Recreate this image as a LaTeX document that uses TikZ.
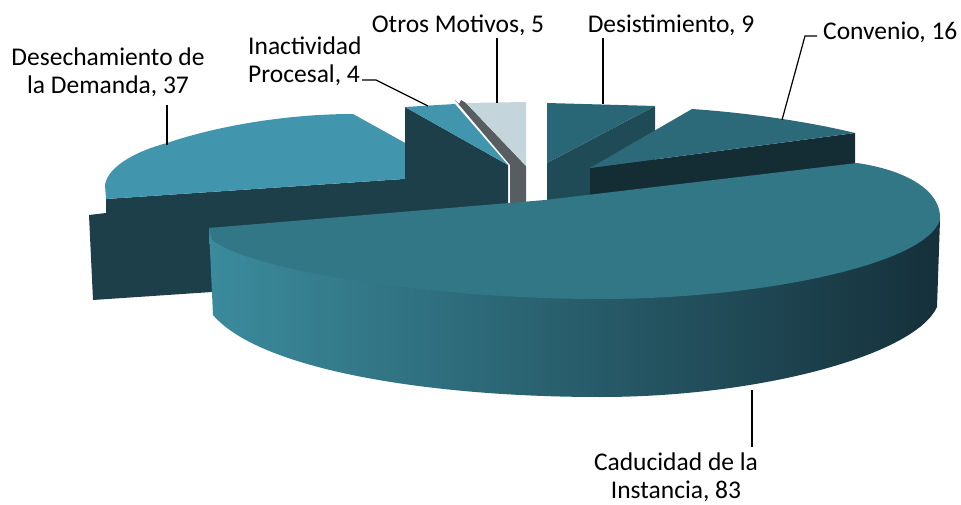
\documentclass[tikz,border=0pt]{standalone}
\usepackage{fontspec}
\setmainfont{Carlito}

\definecolor{cadtop}{HTML}{317786}
\definecolor{cadleft}{HTML}{3B8B9D}
\definecolor{cadmid}{HTML}{265B68}
\definecolor{cadright}{HTML}{15303A}
\definecolor{destop}{HTML}{4196AE}
\definecolor{desside}{HTML}{1D3F4A}
\definecolor{otrtop}{HTML}{C4D5DC}
\definecolor{otrside}{HTML}{575D61}
\definecolor{sistop}{HTML}{296777}
\definecolor{sisside}{HTML}{1F4B57}
\definecolor{contop}{HTML}{2C6A7A}
\definecolor{conside}{HTML}{142D35}

\tikzset{
    lbl/.style={font=\fontsize{25.5}{28}\selectfont, inner sep=0pt},
    leader/.style={line width=1.2pt, black},
}

\begin{document}
\begin{tikzpicture}[x=1pt,y=-1pt]
    \useasboundingbox (0,0) rectangle (961,505);

    % Desechamiento de la Demanda
    \fill[desside] (106,199) -- (463,175) -- (463,280) -- (212,292) -- (93,300) -- (89,215) -- (106,213) -- cycle;
    \fill[destop] (106,199) -- (105,185) .. controls (108,165) and (140,150) .. (167,143) .. controls (220,125) and (290,114) .. (353,114) -- (463,175) -- cycle;

    % Inactividad Procesal
    \fill[desside] (405,107) -- (508,165) -- (508,215) -- (405,215) -- cycle;
    \fill[destop] (405,107) -- (455,104) -- (508,165) -- cycle;

    % Otros Motivos
    \fill[otrside] (455,100) -- (459,104) -- (461,100) -- (466,103) -- (526,166) -- (526,215) -- (510,215) -- (510,165) -- cycle;
    \fill[otrtop] (466,103) -- (526,102) -- (526,166) -- cycle;

    % Desistimiento
    \fill[sisside] (547,163) -- (655,106) -- (655,210) -- (547,210) -- cycle;
    \fill[sistop] (547,103) -- (655,106) -- (547,163) -- cycle;

    % Convenio
    \fill[conside] (590,168) -- (855,133) -- (855,175) -- (590,210) -- cycle;
    \fill[contop] (590,168) -- (692,109) .. controls (750,113) and (810,122) .. (855,133) -- cycle;

    % Caducidad de la Instancia
    \shade[left color=cadleft, middle color=cadmid, right color=cadright] (209,228) -- (213,315) .. controls (260,370) and (430,397) .. (600,397) .. controls (760,397) and (915,355) .. (937,307) -- (940,220) -- cycle;
    \fill[cadtop] (209,228) -- (545,200) -- (857,163) .. controls (905,170) and (942,190) .. (940,220) .. controls (925,265) and (760,299) .. (600,299) .. controls (430,299) and (250,270) .. (212,240) -- cycle;

    % labels
    \node[lbl, align=center] (lblDesech) at (108,72) {Desechamiento de\\la Demanda, 37};
    \node[lbl, align=left, anchor=west] (lblInact) at (248,61) {Inactividad\\Procesal, 4};
    \node[lbl, anchor=base] (lblOtros) at (458,33) {Otros Motivos, 5};
    \node[lbl, anchor=base] (lblDesist) at (671,33) {Desistimiento, 9};
    \node[lbl, anchor=base west] (lblConv) at (823,40) {Convenio, 16};
    \node[lbl, align=center] (lblCad) at (676,477) {Caducidad de la\\Instancia, 83};

    \coordinate (desechA) at (167,105);
    \coordinate (desechB) at (167,145);
    \coordinate (inactA) at (362,80);
    \coordinate (inactB) at (376,80);
    \coordinate (inactC) at (428,106);
    \coordinate (otrosA) at (497,38);
    \coordinate (otrosB) at (497,103);
    \coordinate (desistA) at (603,38);
    \coordinate (desistB) at (603,104);
    \coordinate (convA) at (817,36);
    \coordinate (convB) at (805,36);
    \coordinate (convC) at (782,120);
    \coordinate (cadA) at (752,390);
    \coordinate (cadB) at (752,447);

    \draw[leader] (desechA) -- (desechB);
    \draw[leader] (inactA) -- (inactB) -- (inactC);
    \draw[leader] (otrosA) -- (otrosB);
    \draw[leader] (desistA) -- (desistB);
    \draw[leader] (convA) -- (convB) -- (convC);
    \draw[leader] (cadA) -- (cadB);
\end{tikzpicture}
\end{document}
